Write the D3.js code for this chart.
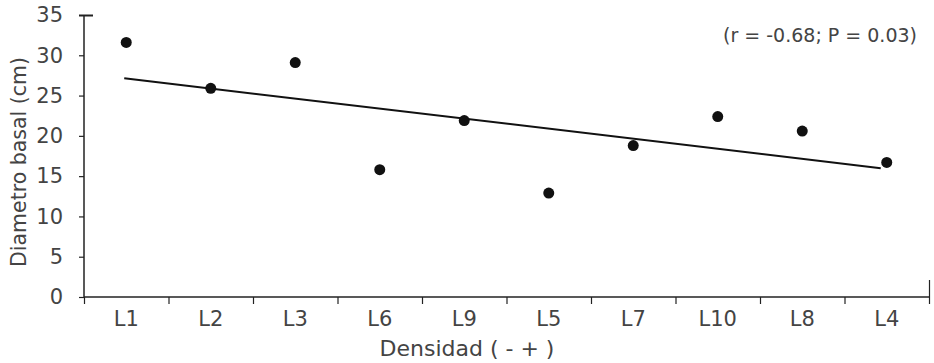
<!DOCTYPE html>
<html>
<head>
<meta charset="utf-8">
<script src="https://cdn.jsdelivr.net/npm/d3@7"></script>
<style>
  body { margin: 0; background: #fff; }
  text { font-family: "DejaVu Sans", sans-serif; fill: #444; }
</style>
</head>
<body>
<div id="chart"></div>
<script>
const categories = ["L1", "L2", "L3", "L6", "L9", "L5", "L7", "L10", "L8", "L4"];
const diametro = [31.6, 25.9, 29.1, 15.8, 21.9, 12.9, 18.8, 22.4, 20.6, 16.7];
const yTicks = [0, 5, 10, 15, 20, 25, 30, 35];
const statsLabel = "(r = -0.68; P = 0.03)";

const W = 934, H = 363;
const margin = { top: 15, right: 5, bottom: 66, left: 84 };
const width = W - margin.left - margin.right;
const height = H - margin.top - margin.bottom;

const svg = d3.select("#chart").append("svg")
  .attr("width", W)
  .attr("height", H);

const g = svg.append("g")
  .attr("transform", `translate(${margin.left},${margin.top})`);

const x = d3.scaleBand().domain(categories).range([0, width]).padding(0);
const xEdges = d3.scaleLinear().domain([0, categories.length]).range([0, width]);
const y = d3.scaleLinear().domain([0, 35]).range([height, 0]);

// y axis
const yAxis = g.append("g")
  .call(d3.axisLeft(y).tickValues(yTicks).tickSize(5).tickPadding(16));
yAxis.select(".domain").attr("stroke", "#222").attr("stroke-width", 1.5).attr("d", `M0,0V${height}`);
yAxis.selectAll(".tick line").attr("stroke", "#222").attr("stroke-width", 1.2);
yAxis.selectAll(".tick").filter(d => d === 35).select("line").attr("x1", 9).attr("stroke-width", 2);
yAxis.selectAll("text").style("font-size", "21px").attr("fill", "#444").style("font-family", "DejaVu Sans");

// x axis: boundary ticks
const xAxis = g.append("g")
  .attr("transform", `translate(0,${height})`)
  .call(d3.axisBottom(xEdges).ticks(categories.length).tickSize(7).tickFormat(""));
xAxis.select(".domain").attr("stroke", "#222").attr("stroke-width", 1.5).attr("d", `M0,0H${width}`);
xAxis.selectAll(".tick line").attr("stroke", "#222").attr("stroke-width", 1.2);
xAxis.selectAll(".tick").filter(d => d === categories.length).select("line").attr("y1", -17);

// x category labels
const xLabels = g.append("g")
  .attr("transform", `translate(0,${height})`)
  .call(d3.axisBottom(x).tickSize(0).tickPadding(14));
xLabels.select(".domain").remove();
xLabels.selectAll("text").style("font-size", "21px").attr("fill", "#444").style("font-family", "DejaVu Sans");

// regression line
const xs = diametro.map((d, i) => i + 1);
const mx = d3.mean(xs), my = d3.mean(diametro);
const slope = d3.sum(xs, (v, i) => (v - mx) * (diametro[i] - my)) / d3.sum(xs, v => (v - mx) ** 2);
const fit = v => my + slope * (v - mx);
const cx = c => x(c) + x.bandwidth() / 2;

g.append("line")
  .attr("x1", cx(categories[0]) - 2)
  .attr("y1", y(fit(1)))
  .attr("x2", cx(categories[categories.length - 1]) - 6)
  .attr("y2", y(fit(categories.length)))
  .attr("stroke", "#111")
  .attr("stroke-width", 2);

// points
g.selectAll("circle.pt")
  .data(categories)
  .enter()
  .append("circle")
  .attr("class", "pt")
  .attr("cx", d => cx(d))
  .attr("cy", (d, i) => y(diametro[i]))
  .attr("r", 5.5)
  .attr("fill", "#111");

// axis titles
svg.append("text")
  .attr("x", 467)
  .attr("y", 356)
  .attr("text-anchor", "middle")
  .style("font-size", "22px")
  .text("Densidad ( - + )");

svg.append("text")
  .attr("transform", "rotate(-90)")
  .attr("x", -162)
  .attr("y", 26)
  .attr("text-anchor", "middle")
  .style("font-size", "20.5px")
  .text("Diametro basal (cm)");

svg.append("text")
  .attr("x", 917)
  .attr("y", 42)
  .attr("text-anchor", "end")
  .style("font-size", "19px")
  .text(statsLabel);
</script>
</body>
</html>
